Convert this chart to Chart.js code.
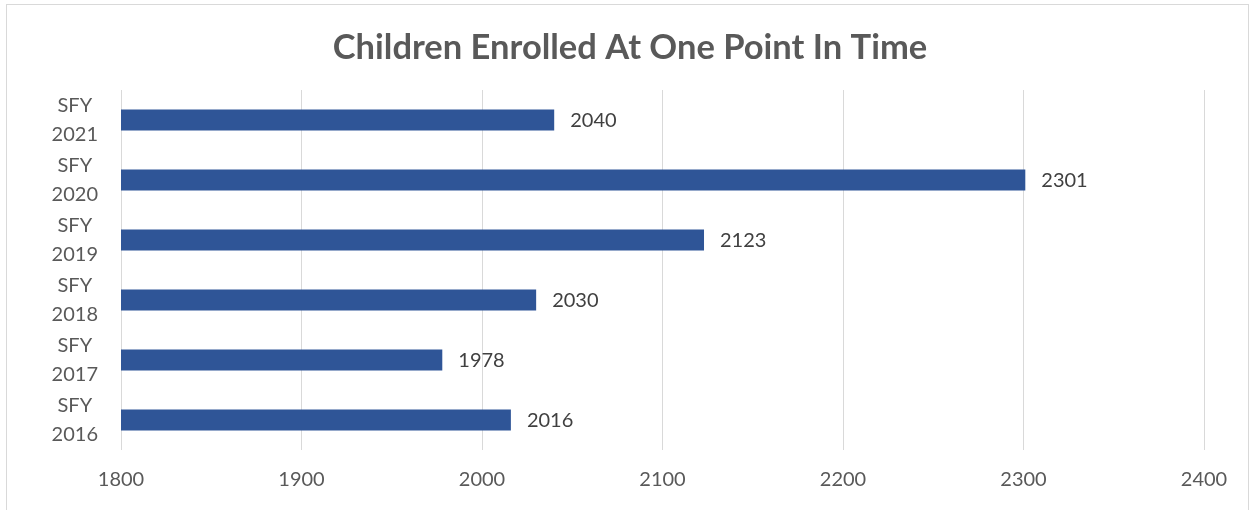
<!DOCTYPE html>
<html>
<head>
<meta charset="utf-8">
<script src="https://cdn.jsdelivr.net/npm/chart.js@4/dist/chart.umd.min.js"></script>
<style>
  html, body { margin: 0; padding: 0; background: #fff; }
  #wrap { position: absolute; left: 0; top: 0; width: 1253px; height: 510px; }
</style>
</head>
<body>
<div id="wrap"><canvas id="myBarChart"></canvas></div>
<script>
// chart data
var nam_hoc = [['SFY', '2021'], ['SFY', '2020'], ['SFY', '2019'], ['SFY', '2018'], ['SFY', '2017'], ['SFY', '2016']];
var so_tre = [2040, 2301, 2123, 2030, 1978, 2016];
var truc_x = [1800, 1900, 2000, 2100, 2200, 2300, 2400];
var tieu_de = 'Children Enrolled At One Point In Time';

var FONT = 'Lato, "Open Sans", sans-serif';

// outer frame + title, centred on the whole chart area like excel does
var khung = {
  id: 'khung',
  beforeDraw: function(chart){
    var c = chart.ctx;
    c.save();
    c.fillStyle = '#fff';
    c.fillRect(0, 0, chart.width, chart.height);
    c.strokeStyle = '#d9d9d9';
    c.lineWidth = 1;
    c.strokeRect(6.5, 4.5, 1242, 510);
    c.font = 'bold 34.5px ' + FONT;
    c.fillStyle = '#595959';
    c.textAlign = 'center';
    c.textBaseline = 'middle';
    c.fillText(tieu_de, 630, 48);
    c.restore();
  }
};

// value labels next to each bar
var nhan = {
  id: 'nhan',
  afterDatasetsDraw: function(chart){
    var c = chart.ctx;
    var meta = chart.getDatasetMeta(0);
    c.save();
    c.font = '20px ' + FONT;
    c.fillStyle = '#404040';
    c.textAlign = 'left';
    c.textBaseline = 'middle';
    meta.data.forEach(function(bar, i){
      c.fillText(so_tre[i], bar.x + 16, bar.y + 1);
    });
    c.restore();
  }
};

var chardata = {
  labels: nam_hoc,
  datasets: [{
    label: 'Children',
    data: so_tre,
    backgroundColor: '#2f5597',
    borderWidth: 0,
    barPercentage: 0.35,
    categoryPercentage: 1
  }]
};

var ctx = document.getElementById('myBarChart');
var barGraph = new Chart(ctx, {
  type: 'bar',
  data: chardata,
  plugins: [khung, nhan],
  options: {
    indexAxis: 'y',
    responsive: true,
    maintainAspectRatio: false,
    animation: false,
    layout: { padding: { left: 0, right: 49, top: 90, bottom: 0 } },
    plugins: {
      legend: { display: false },
      tooltip: { enabled: false },
      title: { display: false }
    },
    scales: {
      x: {
        min: 1800,
        max: 2400,
        afterBuildTicks: function(scale){
          scale.ticks = truc_x.map(function(v){ return { value: v }; });
        },
        afterFit: function(scale){ scale.height = 60; },
        grid: { color: '#d9d9d9', lineWidth: 1, drawTicks: false },
        border: { display: false },
        ticks: {
          color: '#595959',
          font: { family: FONT, size: 20 },
          padding: 18,
          maxRotation: 0,
          callback: function(v){ return String(v); }
        }
      },
      y: {
        afterFit: function(scale){ scale.width = 121; },
        grid: { display: false, drawTicks: false },
        border: { display: false },
        ticks: {
          color: '#595959',
          font: { family: FONT, size: 20, lineHeight: 1.45 },
          crossAlign: 'center',
          padding: 23,
          autoSkip: false
        }
      }
    }
  }
});
</script>
</body>
</html>
